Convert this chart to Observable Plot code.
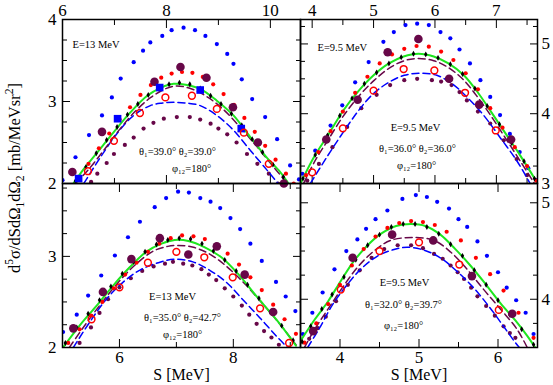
<!DOCTYPE html>
<html><head><meta charset="utf-8">
<script src="https://cdn.jsdelivr.net/npm/d3@7"></script>
<script src="https://cdn.jsdelivr.net/npm/@observablehq/plot@0.6"></script>
<style>
body{margin:0;background:#fff;}
#chart{position:relative;width:553px;height:385px;font-family:"Liberation Serif","Times New Roman",serif;overflow:hidden;}
#chart svg{position:absolute;left:0;top:0;}
#chart svg, #chart svg text{font-family:"Liberation Serif","Times New Roman",serif !important;}
#ytitle{position:absolute;left:15px;top:178px;transform:translate(-50%,-50%) rotate(-90deg);white-space:nowrap;font-size:16.5px;line-height:1;z-index:5;font-family:"Liberation Serif","Times New Roman",serif;}
#ytitle sup,#ytitle sub{font-size:70%;line-height:0;}
</style></head><body>
<div id="chart"><div id="ytitle">d<sup>5</sup>σ/dSdΩ<sub>1</sub>dΩ<sub>2</sub> [mb/MeVsr<sup>2</sup>]</div></div>
<script>
// ---------- Top-left panel (E=13 MeV, θ1=39.0 θ2=39.0) ----------
const tlGreen = [[6.21,2.0],[6.4,2.17],[6.67,2.38],[6.99,2.63],[7.31,2.87],[7.63,3.07],[7.9,3.17],[8.14,3.215],[8.4,3.2],[8.65,3.155],[8.97,3.01],[9.29,2.83],[9.62,2.56],[9.94,2.31],[10.19,2.14],[10.35,2.0]];
const tlBlack = [[6.25,2.03],[6.45,2.2],[6.65,2.37],[6.85,2.53],[7.05,2.69],[7.25,2.84],[7.45,2.97],[7.65,3.08],[7.85,3.16],[8.05,3.21],[8.25,3.23],[8.45,3.21],[8.65,3.16],[8.85,3.07],[9.05,2.97],[9.25,2.85],[9.45,2.71],[9.65,2.54],[9.85,2.38],[10.05,2.23],[10.25,2.08]];
const tlRed = [[6.3,2.06],[6.5,2.24],[6.7,2.43],[6.9,2.61],[7.1,2.78],[7.3,2.93],[7.5,3.08],[7.7,3.2],[7.9,3.29],[8.1,3.34],[8.3,3.36],[8.5,3.35],[8.7,3.3],[8.9,3.21],[9.1,3.09],[9.3,2.96],[9.5,2.8],[9.7,2.63],[9.9,2.46],[10.1,2.29],[10.3,2.12],[10.45,2.0]];
const tlBlueDot = [[6.0,2.04],[6.25,2.32],[6.51,2.59],[6.76,2.83],[6.95,3.05],[7.12,3.28],[7.37,3.48],[7.55,3.62],[7.69,3.72],[7.92,3.8],[8.1,3.87],[8.33,3.9],[8.55,3.87],[8.75,3.8],[8.97,3.7],[9.17,3.58],[9.29,3.46],[9.45,3.27],[9.65,3.03],[9.9,2.81],[10.13,2.54],[10.38,2.22],[10.55,2.05]];
const tlMaroonDash = [[6.25,2.0],[6.5,2.17],[6.8,2.41],[7.1,2.66],[7.4,2.88],[7.7,3.05],[8.0,3.16],[8.2,3.19],[8.5,3.15],[8.8,3.05],[9.1,2.9],[9.4,2.7],[9.7,2.48],[10.0,2.25],[10.3,2.02]];
const tlBlueDash = [[6.41,2.0],[6.73,2.32],[7.05,2.61],[7.37,2.83],[7.69,2.95],[7.9,2.98],[8.14,2.99],[8.4,2.98],[8.65,2.95],[8.97,2.83],[9.29,2.65],[9.62,2.4],[9.94,2.16],[10.15,2.0]];
const tlMaroonDot = [[6.55,2.02],[6.67,2.12],[6.85,2.25],[6.99,2.36],[7.2,2.47],[7.37,2.56],[7.56,2.67],[7.75,2.74],[7.95,2.79],[8.2,2.81],[8.45,2.81],[8.65,2.78],[8.85,2.73],[9.0,2.67],[9.17,2.6],[9.35,2.5],[9.55,2.36],[9.75,2.24],[9.97,2.12],[10.15,2.0]];
const tlMaroonData = [[6.19,2.14],[6.76,2.63],[7.77,3.24],[8.27,3.42],[8.77,3.29],[9.28,2.93],[9.76,2.5],[10.26,2.0]];
const tlBlueSquares = [[6.31,2.06],[7.06,2.79],[7.87,3.17],[8.65,3.14],[9.44,2.67]];
const tlRedOpen = [[6.49,2.15],[6.99,2.52],[7.49,2.86],[7.98,3.05],[8.49,3.07],[8.97,2.91],[9.49,2.62],[9.97,2.24]];
const tlNotes = ["E=13 MeV", "θ₁=39.0° θ₂=39.0°", "φ₁₂=180°"];

// ---------- Top-right panel (E=9.5 MeV, θ1=36.0 θ2=36.0) ----------
const trGreen = [[3.81,3.0],[4.03,3.38],[4.27,3.71],[4.51,4.05],[4.76,4.33],[5.0,4.55],[5.25,4.72],[5.49,4.82],[5.73,4.86],[5.98,4.82],[6.22,4.72],[6.47,4.55],[6.71,4.29],[6.95,3.98],[7.17,3.69],[7.39,3.4],[7.66,3.02]];
const trBlack = [[3.85,3.07],[4.05,3.41],[4.25,3.69],[4.45,3.97],[4.65,4.22],[4.85,4.43],[5.05,4.59],[5.25,4.72],[5.45,4.81],[5.65,4.86],[5.85,4.85],[6.05,4.8],[6.25,4.71],[6.45,4.57],[6.65,4.36],[6.85,4.11],[7.05,3.85],[7.25,3.58],[7.45,3.32],[7.62,3.07]];
const trRed = [[3.9,3.12],[4.1,3.45],[4.3,3.75],[4.5,4.03],[4.7,4.3],[4.9,4.53],[5.1,4.72],[5.3,4.85],[5.5,4.93],[5.7,4.97],[5.9,4.96],[6.1,4.89],[6.3,4.77],[6.5,4.58],[6.7,4.35],[6.9,4.08],[7.1,3.8],[7.3,3.52],[7.5,3.25],[7.65,3.04]];
const trBlueDot = [[3.84,3.14],[4.05,3.47],[4.3,3.83],[4.49,4.12],[4.7,4.45],[4.92,4.74],[5.16,5.03],[5.33,5.17],[5.52,5.27],[5.71,5.29],[5.9,5.27],[6.09,5.17],[6.25,5.08],[6.4,4.92],[6.57,4.72],[6.74,4.48],[6.9,4.24],[7.06,3.98],[7.22,3.71],[7.38,3.45],[7.52,3.22],[7.65,3.05]];
const trMaroonDash = [[3.86,3.0],[4.05,3.33],[4.27,3.64],[4.51,3.97],[4.76,4.25],[5.0,4.47],[5.25,4.65],[5.5,4.76],[5.73,4.79],[5.98,4.76],[6.22,4.66],[6.47,4.48],[6.71,4.22],[6.95,3.92],[7.17,3.62],[7.39,3.32],[7.62,3.0]];
const trBlueDash = [[3.97,3.0],[4.24,3.38],[4.51,3.74],[4.76,4.05],[5.0,4.29],[5.25,4.45],[5.5,4.55],[5.76,4.58],[6.03,4.55],[6.28,4.43],[6.52,4.24],[6.79,3.98],[7.06,3.66],[7.33,3.33],[7.55,3.0]];
const trMaroonDot = [[3.92,3.04],[4.11,3.28],[4.33,3.52],[4.57,3.81],[4.8,4.08],[5.05,4.27],[5.27,4.41],[5.5,4.48],[5.71,4.5],[5.95,4.48],[6.1,4.46],[6.27,4.41],[6.4,4.31],[6.52,4.19],[6.7,4.03],[6.9,3.86],[7.12,3.62],[7.33,3.35],[7.5,3.12]];
const trMaroonData = [[4.23,3.63],[4.74,4.2],[5.23,4.88],[5.73,5.07],[6.23,4.5],[6.72,4.13],[7.24,3.63]];
const trRedOpen = [[4.0,3.16],[4.5,3.79],[5.0,4.33],[5.49,4.64],[5.99,4.62],[6.49,4.3],[6.99,3.76]];
const trNotes = ["E=9.5 MeV", "E=9.5 MeV", "θ₁=36.0° θ₂=36.0°", "φ₁₂=180°"];

// ---------- Bottom-left panel (E=13 MeV, θ1=35.0 θ2=42.7) ----------
const blGreen = [[5.01,2.0],[5.3,2.24],[5.6,2.46],[5.89,2.68],[6.18,2.88],[6.47,3.05],[6.74,3.14],[6.97,3.18],[7.21,3.17],[7.5,3.1],[7.79,2.99],[8.08,2.81],[8.37,2.59],[8.67,2.37],[8.84,2.24],[9.1,2.02]];
const blBlack = [[5.05,2.05],[5.25,2.22],[5.45,2.37],[5.65,2.52],[5.85,2.67],[6.05,2.81],[6.25,2.94],[6.45,3.05],[6.65,3.13],[6.85,3.18],[7.05,3.2],[7.25,3.19],[7.45,3.14],[7.65,3.06],[7.85,2.96],[8.05,2.84],[8.25,2.69],[8.45,2.54],[8.65,2.39],[8.85,2.24],[9.05,2.08]];
const blRed = [[5.1,2.05],[5.3,2.2],[5.5,2.35],[5.7,2.5],[5.9,2.65],[6.1,2.8],[6.3,2.93],[6.5,3.05],[6.7,3.14],[6.9,3.2],[7.1,3.23],[7.3,3.22],[7.5,3.19],[7.7,3.12],[7.9,3.03],[8.1,2.91],[8.3,2.77],[8.5,2.63],[8.7,2.47],[8.9,2.31],[9.1,2.15]];
const blBlueDot = [[5.01,2.17],[5.25,2.36],[5.45,2.57],[5.68,2.79],[5.92,3.01],[6.15,3.21],[6.36,3.38],[6.62,3.54],[6.82,3.64],[7.03,3.71],[7.22,3.7],[7.42,3.64],[7.6,3.6],[7.77,3.53],[7.95,3.42],[8.12,3.3],[8.3,3.14],[8.5,2.95],[8.75,2.72],[8.92,2.56],[9.09,2.4]];
const blMaroonDash = [[5.12,2.0],[5.4,2.25],[5.7,2.5],[6.0,2.73],[6.3,2.92],[6.6,3.06],[6.85,3.11],[7.03,3.12],[7.3,3.1],[7.6,3.02],[7.9,2.88],[8.2,2.7],[8.5,2.49],[8.8,2.27],[9.1,2.03]];
const blBlueDash = [[5.19,2.0],[5.48,2.28],[5.77,2.53],[6.07,2.72],[6.36,2.85],[6.68,2.93],[6.97,2.97],[7.29,2.94],[7.58,2.85],[7.87,2.72],[8.16,2.53],[8.46,2.33],[8.75,2.13],[8.95,2.0]];
const blMaroonDot = [[5.3,2.05],[5.5,2.22],[5.65,2.38],[5.8,2.53],[6.0,2.66],[6.2,2.76],[6.4,2.84],[6.6,2.89],[6.8,2.92],[6.94,2.94],[7.12,2.92],[7.28,2.9],[7.44,2.86],[7.57,2.8],[7.7,2.74],[7.85,2.65],[8.0,2.56],[8.15,2.46],[8.28,2.36],[8.41,2.26],[8.54,2.18],[8.67,2.11],[8.8,2.03]];
const blMaroonData = [[5.19,2.21],[5.71,2.61],[6.21,2.97],[6.71,3.2],[7.21,3.02],[7.71,3.11],[8.2,2.8],[8.7,2.39]];
const blRedOpen = [[5.51,2.31],[6.0,2.66],[6.5,2.93],[7.0,3.05],[7.49,2.99],[7.99,2.77],[8.47,2.43],[8.98,2.05]];
const blNotes = ["E=13 MeV", "θ₁=35.0° θ₂=42.7°", "φ₁₂=180°"];

// ---------- Bottom-right panel (E=9.5 MeV, θ1=32.0 θ2=39.7) ----------
const brGreen = [[3.51,3.58],[3.68,3.79],[3.85,3.98],[4.01,4.19],[4.18,4.4],[4.35,4.56],[4.52,4.68],[4.71,4.76],[4.9,4.78],[5.08,4.76],[5.27,4.67],[5.46,4.52],[5.65,4.35],[5.84,4.16],[6.03,3.96],[6.22,3.78],[6.37,3.62],[6.47,3.5]];
const brBlack = [[3.52,3.56],[3.63,3.72],[3.77,3.9],[3.9,4.05],[4.05,4.23],[4.2,4.41],[4.35,4.56],[4.5,4.67],[4.65,4.75],[4.8,4.78],[4.95,4.78],[5.1,4.75],[5.25,4.68],[5.4,4.57],[5.55,4.45],[5.7,4.3],[5.85,4.15],[6.0,3.99],[6.15,3.84],[6.3,3.69],[6.45,3.53]];
const brRed = [[3.55,3.55],[3.7,3.75],[3.85,3.95],[4.0,4.15],[4.15,4.35],[4.3,4.52],[4.45,4.65],[4.6,4.74],[4.75,4.79],[4.9,4.81],[5.05,4.8],[5.2,4.77],[5.35,4.7],[5.53,4.61],[5.72,4.43],[5.9,4.26],[6.07,4.09],[6.26,3.86],[6.45,3.6]];
const brBlueDot = [[3.53,3.64],[3.65,3.86],[3.78,4.07],[3.93,4.31],[4.08,4.5],[4.22,4.62],[4.33,4.73],[4.45,4.83],[4.6,4.92],[4.79,5.04],[4.96,5.08],[5.1,5.06],[5.23,5.01],[5.38,4.94],[5.5,4.83],[5.61,4.75],[5.74,4.6],[5.86,4.45],[6.0,4.28],[6.11,4.12],[6.23,3.99],[6.35,3.86],[6.45,3.64]];
const brMaroonDash = [[3.55,3.5],[3.68,3.69],[3.85,3.9],[4.03,4.12],[4.22,4.33],[4.43,4.5],[4.64,4.61],[4.94,4.64],[5.19,4.61],[5.4,4.49],[5.61,4.31],[5.82,4.1],[6.03,3.9],[6.24,3.69],[6.37,3.5]];
const brBlueDash = [[3.59,3.5],[3.74,3.7],[3.91,3.95],[4.08,4.14],[4.26,4.31],[4.48,4.45],[4.66,4.51],[4.85,4.54],[5.06,4.51],[5.27,4.43],[5.48,4.29],[5.69,4.12],[5.9,3.91],[6.07,3.72],[6.22,3.55],[6.27,3.5]];
const brMaroonDot = [[3.61,3.59],[3.72,3.7],[3.82,3.82],[3.95,3.98],[4.1,4.15],[4.25,4.3],[4.4,4.43],[4.56,4.52],[4.73,4.56],[4.9,4.56],[5.05,4.53],[5.19,4.47],[5.3,4.42],[5.4,4.35],[5.49,4.28],[5.57,4.21],[5.66,4.12],[5.74,4.03],[5.85,3.93],[5.96,3.83],[6.07,3.72],[6.15,3.65],[6.22,3.6]];
const brMaroonData = [[3.66,3.67],[4.16,4.43],[4.66,4.67],[5.18,4.61],[5.67,4.24],[6.18,3.85]];
const brRedOpen = [[4.01,4.1],[4.5,4.5],[5.0,4.59],[5.51,4.36],[6.01,3.89]];
const brNotes = ["E=9.5 MeV", "θ₁=32.0° θ₂=39.7°", "φ₁₂=180°"];

// ---------- Tick values ----------
const tlXMajor = [6, 8, 10], tlXMinor = [7, 9];
const tlYMajor = [2, 3, 4], tlYMinor = [2.25, 2.5, 2.75, 3.25, 3.5, 3.75];
const trXMajor = [4, 5, 6, 7], trXMinor = [4.5, 5.5, 6.5, 7.5];
const trYMajor = [3, 4, 5], trYMinor = [3.25, 3.5, 3.75, 4.25, 4.5, 4.75, 5.25];
const blXMajor = [6, 8], blXMinor = [5, 7, 9];
const blYMajor = [2, 3], blYMinor = [2.25, 2.5, 2.75, 3.25, 3.5, 3.75];
const brXMajor = [4, 5, 6], brXMinor = [3.5, 4.5, 5.5, 6.5];
const brYMajor = [4, 5], brYMinor = [3.75, 4.25, 4.5, 4.75];
const xTitle = "S [MeV]";

const W = 553, H = 385;
const FONT = "'Liberation Serif','Times New Roman',serif";
const COL = {green: "#1ee61e", black: "#000000", red: "#ff0000", blue: "#0000ff", maroon: "#670748"};
const X = d => d[0], Y = d => d[1];
const fmt = d => String(d);

function tickSet(dim, anchor, values, size) {
  const o = {anchor, ticks: values, tickSize: size, tickFormat: () => "", label: null, strokeWidth: 1};
  if (dim === "x") return Plot.axisX({...o, dy: anchor === "top" ? size : -size});
  return Plot.axisY({...o, dx: anchor === "left" ? size : -size});
}

function panel(p) {
  const marks = [];
  for (const a of ["top", "bottom"]) {
    marks.push(tickSet("x", a, p.xMajor, 8), tickSet("x", a, p.xMinor, 5));
  }
  for (const a of ["left", "right"]) {
    marks.push(tickSet("y", a, p.yMajor, 8), tickSet("y", a, p.yMinor, 5));
  }
  marks.push(Plot.axisX({anchor: p.xAnchor, ticks: p.xMajor, tickSize: 0, tickFormat: fmt, tickPadding: p.xAnchor === "top" ? 4 : 3, label: null, fontSize: 17, fontFamily: FONT}));
  marks.push(Plot.axisY({anchor: p.yAnchor, ticks: p.yMajor, tickSize: 0, tickFormat: fmt, tickPadding: p.yAnchor === "left" ? 6 : 4, label: null, fontSize: 17, fontFamily: FONT}));
  const dotOpts = {x: X, y: Y, r: 2.1, clip: true};
  marks.push(
    Plot.dot(p.blueDot, {...dotOpts, fill: COL.blue}),
    Plot.dot(p.maroonDot, {...dotOpts, fill: COL.maroon}),
    Plot.line(p.blueDash, {x: X, y: Y, stroke: COL.blue, strokeWidth: 1.5, strokeDasharray: "7,4", curve: "catmull-rom", clip: true}),
    Plot.line(p.maroonDash, {x: X, y: Y, stroke: COL.maroon, strokeWidth: 1.5, strokeDasharray: "7,4", curve: "catmull-rom", clip: true}),
    Plot.line(p.green, {x: X, y: Y, stroke: COL.green, strokeWidth: 2, curve: "catmull-rom", clip: true}),
    Plot.dot(p.red, {...dotOpts, fill: COL.red}),
    Plot.dot(p.black, {...dotOpts, symbol: "diamond", r: 1.8, fill: COL.black})
  );
  marks.push(Plot.dot(p.maroonData, {x: X, y: Y, r: 4.3, fill: COL.maroon}));
  if (p.blueSquares) marks.push(Plot.dot(p.blueSquares, {x: X, y: Y, symbol: "square", r: 4.3, fill: COL.blue}));
  marks.push(Plot.dot(p.redOpen, {x: X, y: Y, r: 3.4, stroke: COL.red, strokeWidth: 1.5, fill: "none"}));
  p.notes.forEach((t, i) => {
    const n = p.notePos[i];
    marks.push(Plot.text([t], {text: d => d, frameAnchor: "top-left", dx: n[0], dy: n[1], textAnchor: n[2] || "middle", fontSize: 10.5, fontFamily: FONT}));
  });
  if (p.xTitle) marks.push(Plot.text([p.xTitle], {text: d => d, frameAnchor: "bottom", dy: 32.5, fontSize: 16, fontFamily: FONT}));
  marks.push(Plot.frame({stroke: "black", strokeWidth: 1.5}));
  return Plot.plot({
    width: W, height: H,
    marginLeft: p.box[0], marginTop: p.box[1], marginRight: W - p.box[2], marginBottom: H - p.box[3],
    x: {domain: p.xDomain}, y: {domain: p.yDomain},
    style: {background: "none", fontFamily: FONT, fontSize: "17px", overflow: "visible"},
    marks
  });
}

const chart = document.getElementById("chart");
const panels = [
  {box: [62, 19, 300, 183], xDomain: [6, 10.58], yDomain: [2, 4], xAnchor: "top", yAnchor: "left",
   xMajor: tlXMajor, xMinor: tlXMinor, yMajor: tlYMajor, yMinor: tlYMinor,
   green: tlGreen, black: tlBlack, red: tlRed, blueDot: tlBlueDot, maroonDash: tlMaroonDash, blueDash: tlBlueDash, maroonDot: tlMaroonDot,
   maroonData: tlMaroonData, blueSquares: tlBlueSquares, redOpen: tlRedOpen,
   notes: tlNotes, notePos: [[10, 21, "start"], [115, 128], [129, 145]]},
  {box: [300, 19, 537, 183], xDomain: [3.81, 7.67], yDomain: [3, 5.35], xAnchor: "top", yAnchor: "right",
   xMajor: trXMajor, xMinor: trXMinor, yMajor: trYMajor, yMinor: trYMinor,
   green: trGreen, black: trBlack, red: trRed, blueDot: trBlueDot, maroonDash: trMaroonDash, blueDash: trBlueDash, maroonDot: trMaroonDot,
   maroonData: trMaroonData, redOpen: trRedOpen,
   notes: trNotes, notePos: [[17, 24, "start"], [115, 104], [117, 125], [116, 142]]},
  {box: [62, 183, 300, 347], xDomain: [5, 9.18], yDomain: [2, 3.8], xAnchor: "bottom", yAnchor: "left",
   xMajor: blXMajor, xMinor: blXMinor, yMajor: blYMajor, yMinor: blYMinor,
   green: blGreen, black: blBlack, red: blRed, blueDot: blBlueDot, maroonDash: blMaroonDash, blueDash: blBlueDash, maroonDot: blMaroonDot,
   maroonData: blMaroonData, redOpen: blRedOpen, xTitle,
   notes: blNotes, notePos: [[110, 109], [120, 130], [120, 147]]},
  {box: [300, 183, 537, 347], xDomain: [3.5, 6.5], yDomain: [3.5, 5.2], xAnchor: "bottom", yAnchor: "right",
   xMajor: brXMajor, xMinor: brXMinor, yMajor: brYMajor, yMinor: brYMinor,
   green: brGreen, black: brBlack, red: brRed, blueDot: brBlueDot, maroonDash: brMaroonDash, blueDash: brBlueDash, maroonDot: brMaroonDot,
   maroonData: brMaroonData, redOpen: brRedOpen, xTitle,
   notes: brNotes, notePos: [[104, 95], [103, 117], [103, 138]]}
];
for (const p of panels) chart.appendChild(panel(p));
</script>
</body></html>
